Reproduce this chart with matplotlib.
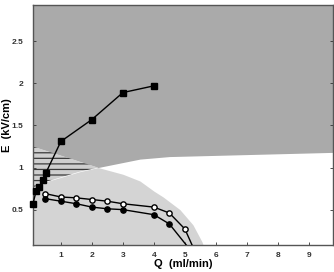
import numpy as np
import matplotlib
matplotlib.use('Agg')
import matplotlib.pyplot as plt

plt.rcParams['font.family'] = ['Liberation Sans', 'DejaVu Sans']
plt.rcParams['hatch.linewidth'] = 0.9

# region boundaries
dark_q = [0.1, 2.2, 3.55, 4.5, 9.8]
dark_e = [1.25, 1.0, 1.1, 1.13, 1.18]

light_q = [0.1, 0.5, 0.97, 1.6, 2.2, 3.0, 3.55, 4.0, 4.3, 4.84, 5.26, 5.55, 5.62]
light_e = [0.76, 0.83, 0.88, 0.95, 1.0, 0.92, 0.84, 0.72, 0.65, 0.5, 0.32, 0.12, 0.05]

# data series
sq_q = [0.1, 0.2, 0.3, 0.42, 0.52, 1.0, 2.0, 3.0, 4.0]
sq_e = [0.57, 0.72, 0.77, 0.85, 0.94, 1.31, 1.57, 1.89, 1.97]

open_q = [0.5, 1.0, 1.5, 2.0, 2.5, 3.0, 4.0, 4.5, 5.0, 5.33]
open_e = [0.69, 0.65, 0.64, 0.62, 0.60, 0.57, 0.53, 0.46, 0.27, 0.0]

fill_q = [0.5, 1.0, 1.5, 2.0, 2.5, 3.0, 4.0, 4.5, 5.22]
fill_e = [0.63, 0.60, 0.57, 0.53, 0.51, 0.50, 0.44, 0.33, 0.0]

xmin, xmax = 0.1, 9.78
ymin, ymax = 0.08, 2.93

fig = plt.figure(figsize=(3.34, 2.72), dpi=100)
ax = fig.add_axes([33/334, 27/272, 300/334, 240/272])

dark = '#aaaaaa'
light = '#d4d4d4'

ax.fill_between(dark_q, dark_e, ymax, color=dark, lw=0, zorder=1)
ax.fill_between(light_q, ymin - 0.1, light_e, color=light, lw=0, zorder=1)

# hatched zone between the two regions on the left
hq = np.linspace(0.1, 2.2, 60)
lo = np.interp(hq, light_q, light_e)
hi = np.interp(hq, dark_q, dark_e)
ax.fill_between(hq, lo, hi, facecolor='#cfcfcf', edgecolor='#3a3a3a', hatch='---', lw=0, zorder=1)

ax.plot(sq_q, sq_e, '-', color='black', lw=1.0, marker='s', ms=5, mfc='black', mec='black', zorder=4, clip_on=False)
ax.plot(open_q, open_e, '-', color='black', lw=1.0, marker='o', ms=3.8, mfc='white', mec='black', mew=1.0, zorder=3)
ax.plot(fill_q, fill_e, '-', color='black', lw=1.0, marker='o', ms=3.8, mfc='black', mec='black', zorder=3)

ax.set_xlim(xmin, xmax)
ax.set_ylim(ymin, ymax)
ax.set_xticks(range(1, 10))
ax.set_yticks([0.5, 1, 1.5, 2, 2.5])
ax.set_yticklabels(['0.5', '1', '1.5', '2', '2.5'])
ax.tick_params(direction='in', length=2, width=0.6, labelsize=6, colors='#333333')
ax.tick_params(axis='x', pad=5)
ax.tick_params(axis='y', pad=7, right=True)
for lab in ax.get_xticklabels() + ax.get_yticklabels():
    lab.set_fontweight('bold')

for s in ax.spines.values():
    s.set_color('#555555')
    s.set_linewidth(1.0)

ax.set_xlabel('Q  (ml/min)', fontsize=8, fontweight='bold', labelpad=0)
ax.set_ylabel('E  (kV/cm)', fontsize=8, fontweight='bold', labelpad=0)

fig.savefig('out.png', dpi=100)
